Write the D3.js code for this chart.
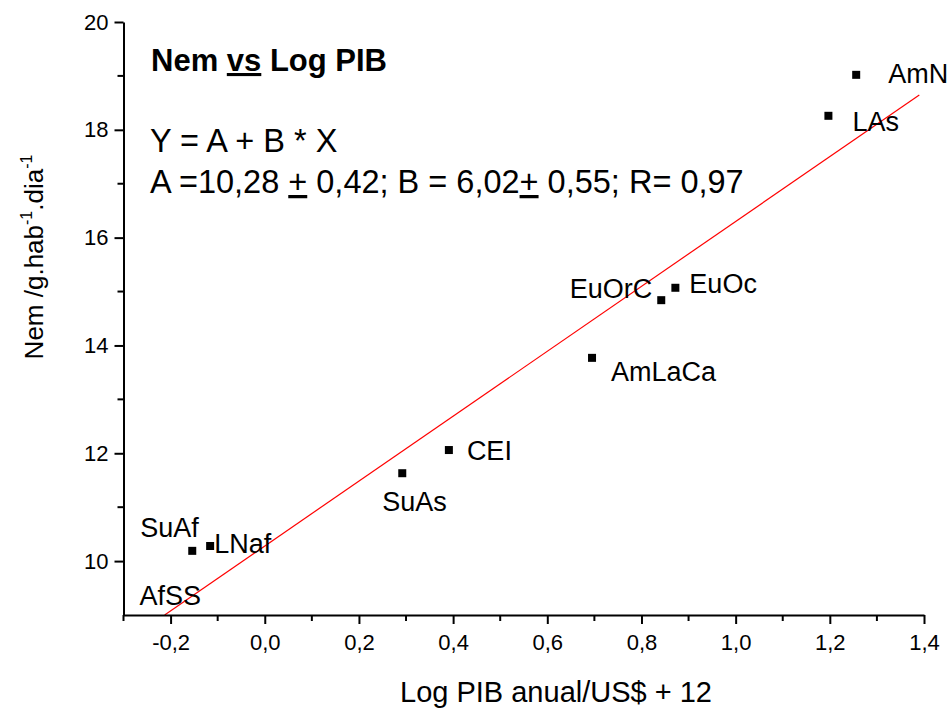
<!DOCTYPE html>
<html lang="en">
<head>
    <meta charset="UTF-8">
    <title>Nem vs Log PIB</title>
    <script src="https://d3js.org/d3.v7.min.js"></script>
    <style>
        body {
            margin: 0;
            background: #fff;
            font-family: "Liberation Sans", Arial, sans-serif;
        }

        .axis path,
        .axis line {
            stroke: #000;
            stroke-width: 2px;
        }

        .axis text {
            font: 22px "Liberation Sans", Arial, sans-serif;
            fill: #000;
        }

        .point-label {
            font: 27px "Liberation Sans", Arial, sans-serif;
            fill: #000;
        }
    </style>
</head>
<body>
    <script>
        // regions and their values
        const regions = ['AmN', 'LAs', 'EuOc', 'EuOrC', 'AmLaCa', 'CEI', 'SuAs', 'LNaf', 'SuAf'];
        const logPib = [1.256, 1.197, 0.872, 0.842, 0.695, 0.391, 0.292, -0.116, -0.154];
        const nem = [19.02, 18.26, 15.07, 14.84, 13.77, 12.06, 11.63, 10.28, 10.19];

        // fit Y = A + B * X
        const fitA = 10.28;
        const fitB = 6.02;
        const fitXMax = 1.39;

        const xTicks = [-0.2, 0.0, 0.2, 0.4, 0.6, 0.8, 1.0, 1.2, 1.4];
        const xMinorTicks = [-0.3, -0.1, 0.1, 0.3, 0.5, 0.7, 0.9, 1.1, 1.3];
        const yTicks = [10, 12, 14, 16, 18, 20];
        const yMinorTicks = [11, 13, 15, 17, 19];

        // label placement relative to each point (px)
        const labelOffsets = {
            AmN: [32, 8, 'start'],
            LAs: [24, 15, 'start'],
            EuOc: [14, 5, 'start'],
            EuOrC: [-9, -2, 'end'],
            AmLaCa: [19, 23, 'start'],
            CEI: [18, 10, 'start'],
            SuAs: [-20, 38, 'start'],
            LNaf: [4, 7, 'start'],
            SuAf: [-52, -14, 'start']
        };

        const width = 952, height = 711;
        const margin = { top: 22, right: 28, bottom: 96, left: 123.5 };

        const x = d3.scaleLinear().domain([-0.3, 1.4]).range([margin.left, width - margin.right]);
        const y = d3.scaleLinear().domain([9, 20]).range([height - margin.bottom, margin.top]);

        const svg = d3.select('body').append('svg')
            .attr('width', width)
            .attr('height', height);

        const fmt = d => d3.format('.1f')(d).replace('.', ',').replace('−', '-');

        function fmt2(v) {
            return d3.format('.2f')(v).replace('.', ',');
        }

        // regression line, clipped to the plot area
        svg.append('clipPath').attr('id', 'plot-clip')
            .append('rect')
            .attr('x', x(-0.3)).attr('y', y(20))
            .attr('width', x(1.4) - x(-0.3)).attr('height', y(9) - y(20));

        const xStart = (9 - fitA) / fitB;
        svg.append('line')
            .attr('clip-path', 'url(#plot-clip)')
            .attr('x1', x(xStart)).attr('y1', y(fitA + fitB * xStart))
            .attr('x2', x(fitXMax)).attr('y2', y(fitA + fitB * fitXMax))
            .attr('stroke', '#ff0000')
            .attr('stroke-width', 1.2);

        // axes
        const xAxis = svg.append('g')
            .attr('class', 'axis')
            .attr('transform', `translate(0,${y(9)})`)
            .call(d3.axisBottom(x).tickValues(xTicks).tickFormat(fmt).tickSize(9).tickSizeOuter(0));
        xAxis.selectAll('text').attr('dy', '1.05em');
        xAxis.selectAll('.minor')
            .data(xMinorTicks)
            .enter().append('line')
            .attr('class', 'minor')
            .attr('x1', d => x(d)).attr('x2', d => x(d))
            .attr('y1', 0).attr('y2', 6)
            .attr('stroke', '#000').attr('stroke-width', 2);

        const yAxis = svg.append('g')
            .attr('class', 'axis')
            .attr('transform', `translate(${x(-0.3)},0)`)
            .call(d3.axisLeft(y).tickValues(yTicks).tickFormat(d3.format('d')).tickSize(9).tickSizeOuter(0));
        yAxis.selectAll('text').attr('x', -15);
        yAxis.selectAll('.minor')
            .data(yMinorTicks)
            .enter().append('line')
            .attr('class', 'minor')
            .attr('y1', d => y(d)).attr('y2', d => y(d))
            .attr('x1', 0).attr('x2', -6)
            .attr('stroke', '#000').attr('stroke-width', 2);

        // points
        const points = regions.map((name, i) => ({ name, x: logPib[i], y: nem[i] }));

        svg.selectAll('.point')
            .data(points)
            .enter().append('rect')
            .attr('class', 'point')
            .attr('x', d => x(d.x) - 4)
            .attr('y', d => y(d.y) - 4)
            .attr('width', 8)
            .attr('height', 8)
            .attr('fill', '#000');

        svg.selectAll('.point-label')
            .data(points)
            .enter().append('text')
            .attr('class', 'point-label')
            .attr('x', d => x(d.x) + labelOffsets[d.name][0])
            .attr('y', d => y(d.y) + labelOffsets[d.name][1])
            .attr('text-anchor', d => labelOffsets[d.name][2])
            .text(d => d.name);

        // AfSS sits below the plotted range, only its label shows
        svg.append('text')
            .attr('class', 'point-label')
            .attr('x', x(-0.3) + 16)
            .attr('y', y(9) - 10)
            .text('AfSS');

        // title and fit text
        svg.append('text')
            .attr('x', 151).attr('y', 71)
            .style('font', 'bold 31px "Liberation Sans", Arial, sans-serif')
            .call(t => {
                t.append('tspan').text('Nem ');
                t.append('tspan').text('vs').style('text-decoration', 'underline');
                t.append('tspan').text(' Log PIB');
            });

        svg.append('text')
            .attr('x', 150).attr('y', 152)
            .style('font', '32.5px "Liberation Sans", Arial, sans-serif')
            .text('Y = A + B * X');

        svg.append('text')
            .attr('x', 150).attr('y', 193)
            .style('font', '32.5px "Liberation Sans", Arial, sans-serif')
            .call(t => {
                t.append('tspan').text(`A =${fmt2(fitA)} `);
                t.append('tspan').text('+').style('text-decoration', 'underline');
                t.append('tspan').text(' 0,42; B = ' + fmt2(fitB));
                t.append('tspan').text('+').style('text-decoration', 'underline');
                t.append('tspan').text(' 0,55; R= 0,97');
            });

        // axis titles
        svg.append('text')
            .attr('x', 556).attr('y', 702)
            .attr('text-anchor', 'middle')
            .style('font', '29px "Liberation Sans", Arial, sans-serif')
            .text('Log PIB anual/US$ + 12');

        svg.append('text')
            .attr('transform', 'translate(43,257) rotate(-90)')
            .attr('text-anchor', 'middle')
            .style('font', '26px "Liberation Sans", Arial, sans-serif')
            .call(t => {
                t.append('tspan').text('Nem /g.hab');
                t.append('tspan').text('-1').attr('dy', -11).style('font-size', '16px');
                t.append('tspan').text('.dia').attr('dy', 11);
                t.append('tspan').text('-1').attr('dy', -11).style('font-size', '16px');
            });
    </script>
</body>
</html>
